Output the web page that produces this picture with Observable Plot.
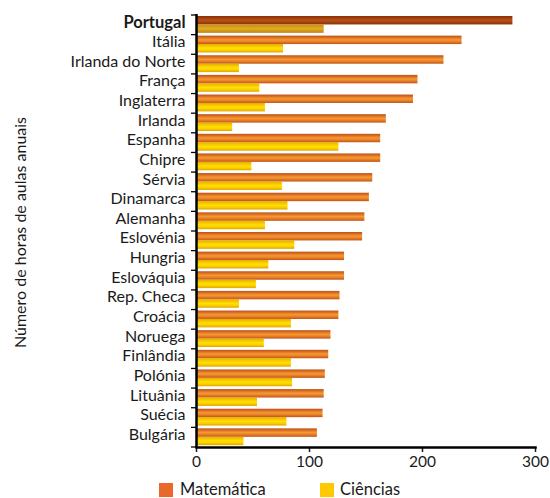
<!DOCTYPE html>
<html><head><meta charset="utf-8">
<script src="https://cdn.jsdelivr.net/npm/d3@7"></script>
<script src="https://cdn.jsdelivr.net/npm/@observablehq/plot@0.6"></script>
<style>
body{margin:0;background:#fff;font-family:Lato,sans-serif;}
#wrap{position:relative;width:550px;}
#legend{position:relative;width:550px;height:23px;font-size:16.5px;color:#1a1a1a;}
#legend .sw{position:absolute;top:8px;width:14px;height:14px;}
#legend .lb{position:absolute;top:6px;line-height:16px;}
</style></head><body>
<div id="wrap"><div id="chart"></div><div id="legend"></div></div>
<script>
const countries = ["Portugal","Itália","Irlanda do Norte","França","Inglaterra","Irlanda","Espanha","Chipre","Sérvia","Dinamarca","Alemanha","Eslovénia","Hungria","Eslováquia","Rep. Checa","Croácia","Noruega","Finlândia","Polónia","Lituânia","Suécia","Bulgária"];
const matematica = [280,235,219,196,192,168,163,163,156,153,149,147,131,131,127,126,119,117,114,113,112,107];
const ciencias = [113,77,38,56,61,32,126,49,76,81,61,87,64,53,38,84,60,84,85,54,80,42];
const xTicks = [0,100,200,300];
const seriesNames = ["Matemática","Ciências"];
const seriesColors = ["#e8692a","#ffc800"];
const highlight = "Portugal";
const yLabel = "Número de horas de aulas anuais";

const data = countries.map((c,i)=>({country:c, m:matematica[i], c:ciencias[i]}));
const isHi = d => d.country === highlight;
const notHi = d => d.country !== highlight;

function boundaryTicks(index, scales, values, dims) {
  const g = d3.create("svg:g").attr("stroke","#000").attr("stroke-width",1.3);
  const top = dims.marginTop, bottom = dims.height - dims.marginBottom;
  const n = countries.length, step = (bottom-top)/n;
  const x0 = scales.x ? scales.x(0) : dims.marginLeft;
  for (let i=0;i<=n;i++){
    const y = top + i*step;
    g.append("line").attr("x1",x0-5).attr("x2",x0).attr("y1",y).attr("y2",y);
  }
  return g.node();
}

const plot = Plot.plot({
  width:550, height:475,
  marginLeft:196, marginRight:15, marginTop:15, marginBottom:28,
  style:{fontFamily:"Lato", fontSize:"16px", color:"#1a1a1a", background:"white"},
  x:{domain:[0,300]},
  y:{domain:countries, padding:0, round:false, label:null},
  marks:[
    Plot.barX(data, {filter:notHi, y:"country", x:"m", fill:"url(#gradM)", insetTop:1, insetBottom:10.2}),
    Plot.barX(data, {filter:notHi, y:"country", x:"c", fill:"url(#gradC)", insetTop:9.4, insetBottom:1.8}),
    Plot.barX(data, {filter:isHi, y:"country", x:"m", fill:"url(#gradMP)", insetTop:1, insetBottom:10.2}),
    Plot.barX(data, {filter:isHi, y:"country", x:"c", fill:"url(#gradCP)", insetTop:9.4, insetBottom:1.8}),
    Plot.axisY({tickSize:0, tickPadding:11, label:null, fontSize:16, dy:-3}),
    Plot.axisX({ticks:xTicks, tickSize:5, tickPadding:3, label:null, fontSize:15.5, strokeWidth:1.5}),
    Plot.ruleX([0], {stroke:"#000", strokeWidth:2.5, insetTop:-1}),
    Plot.frame({anchor:"bottom", stroke:"#000", strokeWidth:2.5}),
    boundaryTicks,
    Plot.text([yLabel], {text:d=>d, frameAnchor:"left", textAnchor:"middle", rotate:-90, dx:-176, dy:1, fontSize:16, fill:"#1a1a1a"})
  ]
});

const svgNS = "http://www.w3.org/2000/svg";
const defs = document.createElementNS(svgNS, "defs");
function grad(id, stops){
  const lg = document.createElementNS(svgNS, "linearGradient");
  lg.setAttribute("id", id); lg.setAttribute("x1","0"); lg.setAttribute("y1","0"); lg.setAttribute("x2","0"); lg.setAttribute("y2","1");
  for (const [o,c] of stops){ const s=document.createElementNS(svgNS,"stop"); s.setAttribute("offset",o); s.setAttribute("stop-color",c); lg.appendChild(s); }
  defs.appendChild(lg);
}
grad("gradM", [[0,"#b8501a"],[0.3,"#e67a24"],[0.5,"#f49a32"],[0.75,"#e47a26"],[1,"#bf5418"]]);
grad("gradC", [[0,"#e6ac00"],[0.35,"#fbd000"],[0.5,"#ffe000"],[0.72,"#fbd000"],[1,"#e0a400"]]);
grad("gradMP", [[0,"#8a2e04"],[0.5,"#b8541a"],[1,"#8a3004"]]);
grad("gradCP", [[0,"#c98a10"],[0.5,"#e0ac22"],[1,"#c08410"]]);
plot.insertBefore(defs, plot.firstChild);

plot.querySelectorAll("text").forEach(t => { if (t.textContent === highlight) { t.setAttribute("font-weight","bold"); t.setAttribute("font-size","16.5"); } });

document.getElementById("chart").appendChild(plot);

const legend = document.getElementById("legend");
const pos = [[159,180],[320,340]];
seriesNames.forEach((name,i)=>{
  const sw = document.createElement("div"); sw.className="sw"; sw.style.left=pos[i][0]+"px"; sw.style.background=seriesColors[i];
  const lb = document.createElement("div"); lb.className="lb"; lb.style.left=pos[i][1]+"px"; lb.textContent=name;
  legend.appendChild(sw); legend.appendChild(lb);
});
</script>
</body></html>
